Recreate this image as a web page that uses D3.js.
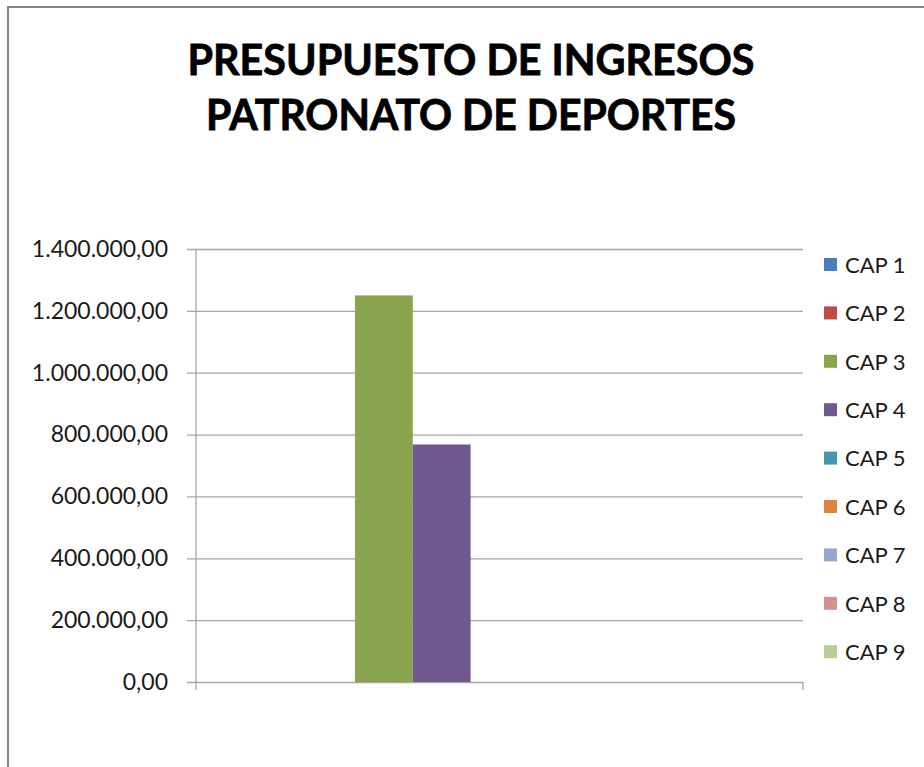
<!DOCTYPE html>
<html>
<head>
<meta charset="utf-8">
<script src="https://cdn.jsdelivr.net/npm/d3@7"></script>
<style>
  body { margin: 0; background: #fff; }
  text { font-family: Lato, "Open Sans", sans-serif; }
</style>
</head>
<body>
<div id="chart"></div>
<script>
// data
let titleLines = ["PRESUPUESTO DE INGRESOS", "PATRONATO DE DEPORTES"];
let categories = ["1"];
let seriesNames = ["CAP 1", "CAP 2", "CAP 3", "CAP 4", "CAP 5", "CAP 6", "CAP 7", "CAP 8", "CAP 9"];
let seriesValues = [0, 0, 1250000, 768000, 0, 0, 0, 0, 0];
let yTicks = [0, 200000, 400000, 600000, 800000, 1000000, 1200000, 1400000];
let seriesColors = ["#4a7ebb", "#be4b48", "#8ba54f", "#71588f", "#4198af", "#db843d", "#93a9cf", "#d19392", "#b9cd96"];

let width = 924, height = 767;
let margin = { top: 249, left: 196, right: 121, bottom: 85 };
let plotW = width - margin.left - margin.right,
    plotH = height - margin.top - margin.bottom;

let svg = d3.select("#chart")
  .append("svg")
  .attr("width", width)
  .attr("height", height);

// outer frame (runs off the right and bottom edges)
svg.append("rect")
  .attr("x", 8).attr("y", 7)
  .attr("width", width + 20).attr("height", height + 20)
  .attr("fill", "#fff")
  .attr("stroke", "#868686")
  .attr("stroke-width", 2);

// title
let title = svg.append("g");
title.selectAll("text")
  .data(titleLines)
  .enter()
  .append("text")
    .attr("x", 471)
    .attr("y", (d, i) => 75 + i * 55)
    .attr("text-anchor", "middle")
    .attr("font-weight", "bold")
    .attr("font-size", 42)
    .attr("fill", "#000")
    .attr("stroke", "#000")
    .attr("stroke-width", 0.8)
    .text(d => d)
    .each(function (d, i) {
      // squeeze to the measured widths of the Calibri title
      let target = i === 0 ? 567 : 530;
      let len = this.getComputedTextLength();
      if (len > target) {
        d3.select(this).attr("textLength", target).attr("lengthAdjust", "spacingAndGlyphs");
      }
    });

let g = svg.append("g")
  .attr("transform", `translate(${margin.left},${margin.top})`);

let y = d3.scaleLinear()
  .domain([0, 1400000])
  .range([plotH, 0]);

let x0 = d3.scaleBand()
  .domain(categories)
  .range([0, plotW]);

// Excel gap width 150%
let x1 = d3.scaleBand()
  .domain(seriesNames)
  .range([0, x0.bandwidth()])
  .paddingOuter(0.75);

let fmt = v => d3.formatLocale({ decimal: ",", thousands: ".", grouping: [3], currency: ["", ""] })
  .format(",.2f")(v);

// gridlines + left ticks
let yAxis = d3.axisLeft(y)
  .tickValues(yTicks)
  .tickSize(-plotW - 9)
  .tickPadding(19)
  .tickFormat(fmt);

let yg = g.append("g")
  .attr("transform", "translate(-9,0)")
  .call(yAxis);
yg.select(".domain").remove();
yg.selectAll(".tick line")
  .attr("x1", 0)
  .attr("x2", plotW + 9)
  .attr("stroke", "#a6a6a6")
  .attr("stroke-width", 1.3);
yg.selectAll(".tick text")
  .attr("x", -19)
  .attr("font-size", 23)
  .attr("fill", "#1a1a1a")
  .style("font-family", "Lato, 'Open Sans', sans-serif");

// bars
g.selectAll("rect.bar")
  .data(seriesNames.map((s, i) => ({ name: s, value: seriesValues[i], color: seriesColors[i] })))
  .enter()
  .append("rect")
    .attr("class", "bar")
    .attr("x", d => x0(categories[0]) + x1(d.name))
    .attr("width", x1.bandwidth())
    .attr("y", d => y(d.value))
    .attr("height", d => plotH - y(d.value))
    .attr("fill", d => d.color);

// vertical axis line and category ticks
g.append("line")
  .attr("x1", 0).attr("x2", 0)
  .attr("y1", 0).attr("y2", plotH + 8)
  .attr("stroke", "#a6a6a6")
  .attr("stroke-width", 1.3);
g.append("line")
  .attr("x1", plotW).attr("x2", plotW)
  .attr("y1", plotH).attr("y2", plotH + 8)
  .attr("stroke", "#a6a6a6")
  .attr("stroke-width", 1.3);

// legend
let legend = svg.append("g")
  .attr("transform", "translate(824,265)");

let item = legend.selectAll("g")
  .data(seriesNames)
  .enter()
  .append("g")
    .attr("transform", (d, i) => `translate(0,${i * 48.4})`);

item.append("rect")
  .attr("x", 0).attr("y", -7)
  .attr("width", 13).attr("height", 13)
  .attr("fill", (d, i) => seriesColors[i]);

item.append("text")
  .attr("x", 21)
  .attr("y", 0)
  .attr("dy", "0.35em")
  .attr("font-size", 22)
  .attr("fill", "#1a1a1a")
  .text(d => d);
</script>
</body>
</html>
